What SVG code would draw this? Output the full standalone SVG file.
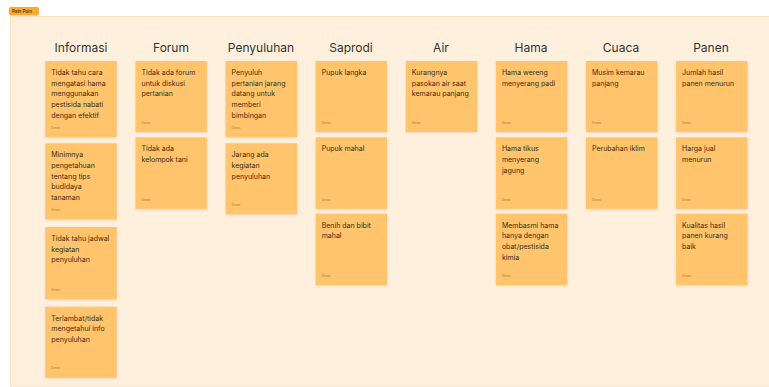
<svg xmlns="http://www.w3.org/2000/svg" width="769" height="387" viewBox="0 0 769 387">
<defs>
<filter id="sh" x="-10%" y="-10%" width="130%" height="130%">
<feDropShadow dx="0" dy="1" stdDeviation="1" flood-color="#8a5a10" flood-opacity="0.18"/>
</filter>
<style>
.bg{fill:#fff0de;stroke:#fde0bb;stroke-width:1}
.pill{fill:#f8ab2e}
.pilltx{font-family:Inter,"Liberation Sans",sans-serif;font-size:4.5px;fill:#3a2a10;font-weight:500}
.hdr{font-family:Inter,"Liberation Sans",sans-serif;font-size:12px;font-weight:400;fill:#333333;text-anchor:middle}
.note{fill:#ffc46c;filter:url(#sh)}
.tx{font-family:Inter,"Liberation Sans",sans-serif;font-size:7px;fill:#3a2c16}
.au{font-family:Inter,"Liberation Sans",sans-serif;font-size:3px;fill:#a97f40}
</style>
</defs>
<rect class="bg" x="10.5" y="16.5" width="770" height="369.5"/>
<g id="label">
<rect class="pill" x="9" y="7" width="30" height="8.5" rx="2"/>
<text class="pilltx" x="12" y="12.8">Pain Poin</text>
</g>
<g id="headers">
<text class="hdr" x="81" y="52">Informasi</text>
<text class="hdr" x="171" y="52">Forum</text>
<text class="hdr" x="261" y="52">Penyuluhan</text>
<text class="hdr" x="351" y="52">Saprodi</text>
<text class="hdr" x="441" y="52">Air</text>
<text class="hdr" x="531" y="52">Hama</text>
<text class="hdr" x="621" y="52">Cuaca</text>
<text class="hdr" x="711" y="52">Panen</text>
</g>
<g id="connectors"></g>

<g id="inf1"><rect class="note" x="45.3" y="61" width="71.4" height="76"/>
<text class="tx" x="51.3" y="75"><tspan x="51.3">Tidak tahu cara</tspan><tspan x="51.3" dy="10.7">mengatasi hama</tspan><tspan x="51.3" dy="10.7">menggunakan</tspan><tspan x="51.3" dy="10.7">pestisida nabati</tspan><tspan x="51.3" dy="10.7">dengan efektif</tspan></text>
<text class="au" x="51.3" y="129">Dimas</text></g>
<g id="inf2"><rect class="note" x="45.3" y="143.3" width="71.4" height="76"/>
<text class="tx" x="51.3" y="157.3"><tspan x="51.3">Minimnya</tspan><tspan x="51.3" dy="10.7">pengetahuan</tspan><tspan x="51.3" dy="10.7">tentang tips</tspan><tspan x="51.3" dy="10.7">budidaya</tspan><tspan x="51.3" dy="10.7">tanaman</tspan></text>
<text class="au" x="51.3" y="211.3">Dimas</text></g>
<g id="inf3"><rect class="note" x="45.3" y="227" width="71.4" height="72"/>
<text class="tx" x="51.3" y="241"><tspan x="51.3">Tidak tahu jadwal</tspan><tspan x="51.3" dy="10.7">kegiatan</tspan><tspan x="51.3" dy="10.7">penyuluhan</tspan></text>
<text class="au" x="51.3" y="291">Dimas</text></g>
<g id="inf4"><rect class="note" x="45.3" y="306.7" width="71.4" height="71"/>
<text class="tx" x="51.3" y="320.7"><tspan x="51.3">Terlambat/tidak</tspan><tspan x="51.3" dy="10.7">mengetahui info</tspan><tspan x="51.3" dy="10.7">penyuluhan</tspan></text>
<text class="au" x="51.3" y="369.3">Dimas</text></g>

<g id="for1"><rect class="note" x="135.5" y="61" width="71.4" height="71"/>
<text class="tx" x="141.5" y="75"><tspan x="141.5">Tidak ada forum</tspan><tspan x="141.5" dy="10.7">untuk diskusi</tspan><tspan x="141.5" dy="10.7">pertanian</tspan></text>
<text class="au" x="141.5" y="124">Dimas</text></g>
<g id="for2"><rect class="note" x="135.5" y="137.3" width="71.4" height="71.5"/>
<text class="tx" x="141.5" y="151.3"><tspan x="141.5">Tidak ada</tspan><tspan x="141.5" dy="10.7">kelompok tani</tspan></text>
<text class="au" x="141.5" y="200.5">Dimas</text></g>

<g id="pen1"><rect class="note" x="225.6" y="61" width="71.4" height="76"/>
<text class="tx" x="231.6" y="75"><tspan x="231.6">Penyuluh</tspan><tspan x="231.6" dy="10.7">pertanian jarang</tspan><tspan x="231.6" dy="10.7">datang untuk</tspan><tspan x="231.6" dy="10.7">memberi</tspan><tspan x="231.6" dy="10.7">bimbingan</tspan></text>
<text class="au" x="231.6" y="129">Dimas</text></g>
<g id="pen2"><rect class="note" x="225.6" y="143.3" width="71.4" height="71"/>
<text class="tx" x="231.6" y="157.3"><tspan x="231.6">Jarang ada</tspan><tspan x="231.6" dy="10.7">kegiatan</tspan><tspan x="231.6" dy="10.7">penyuluhan</tspan></text>
<text class="au" x="231.6" y="206">Dimas</text></g>

<g id="sap1"><rect class="note" x="315.7" y="61" width="71.4" height="71"/>
<text class="tx" x="321.7" y="75">Pupuk langka</text>
<text class="au" x="321.7" y="124">Dimas</text></g>
<g id="sap2"><rect class="note" x="315.7" y="137.3" width="71.4" height="71.5"/>
<text class="tx" x="321.7" y="151.3">Pupuk mahal</text>
<text class="au" x="321.7" y="200.5">Dimas</text></g>
<g id="sap3"><rect class="note" x="315.7" y="213.7" width="71.4" height="71.3"/>
<text class="tx" x="321.7" y="227.7"><tspan x="321.7">Benih dan bibit</tspan><tspan x="321.7" dy="10.7">mahal</tspan></text>
<text class="au" x="321.7" y="277">Dimas</text></g>

<g id="air1"><rect class="note" x="405.8" y="61" width="71.4" height="71"/>
<text class="tx" x="411.8" y="75"><tspan x="411.8">Kurangnya</tspan><tspan x="411.8" dy="10.7">pasokan air saat</tspan><tspan x="411.8" dy="10.7">kemarau panjang</tspan></text>
<text class="au" x="411.8" y="124">Dimas</text></g>

<g id="ham1"><rect class="note" x="495.9" y="61" width="71.4" height="71"/>
<text class="tx" x="501.9" y="75"><tspan x="501.9">Hama wereng</tspan><tspan x="501.9" dy="10.7">menyerang padi</tspan></text>
<text class="au" x="501.9" y="124">Dimas</text></g>
<g id="ham2"><rect class="note" x="495.9" y="137.3" width="71.4" height="71.5"/>
<text class="tx" x="501.9" y="151.3"><tspan x="501.9">Hama tikus</tspan><tspan x="501.9" dy="10.7">menyerang</tspan><tspan x="501.9" dy="10.7">jagung</tspan></text>
<text class="au" x="501.9" y="200.5">Dimas</text></g>
<g id="ham3"><rect class="note" x="495.9" y="213.7" width="71.4" height="71.3"/>
<text class="tx" x="501.9" y="227.7"><tspan x="501.9">Membasmi hama</tspan><tspan x="501.9" dy="10.7">hanya dengan</tspan><tspan x="501.9" dy="10.7">obat/pestisida</tspan><tspan x="501.9" dy="10.7">kimia</tspan></text>
<text class="au" x="501.9" y="277">Dimas</text></g>

<g id="cua1"><rect class="note" x="586" y="61" width="71.4" height="71"/>
<text class="tx" x="592" y="75"><tspan x="592">Musim kemarau</tspan><tspan x="592" dy="10.7">panjang</tspan></text>
<text class="au" x="592" y="124">Dimas</text></g>
<g id="cua2"><rect class="note" x="586" y="137.3" width="71.4" height="71.5"/>
<text class="tx" x="592" y="151.3">Perubahan iklim</text>
<text class="au" x="592" y="200.5">Dimas</text></g>

<g id="pan1"><rect class="note" x="676.1" y="61" width="71.4" height="71"/>
<text class="tx" x="682.1" y="75"><tspan x="682.1">Jumlah hasil</tspan><tspan x="682.1" dy="10.7">panen menurun</tspan></text>
<text class="au" x="682.1" y="124">Dimas</text></g>
<g id="pan2"><rect class="note" x="676.1" y="137.3" width="71.4" height="71.5"/>
<text class="tx" x="682.1" y="151.3"><tspan x="682.1">Harga jual</tspan><tspan x="682.1" dy="10.7">menurun</tspan></text>
<text class="au" x="682.1" y="200.5">Dimas</text></g>
<g id="pan3"><rect class="note" x="676.1" y="213.7" width="71.4" height="71.3"/>
<text class="tx" x="682.1" y="227.7"><tspan x="682.1">Kualitas hasil</tspan><tspan x="682.1" dy="10.7">panen kurang</tspan><tspan x="682.1" dy="10.7">baik</tspan></text>
<text class="au" x="682.1" y="277">Dimas</text></g>
</svg>
